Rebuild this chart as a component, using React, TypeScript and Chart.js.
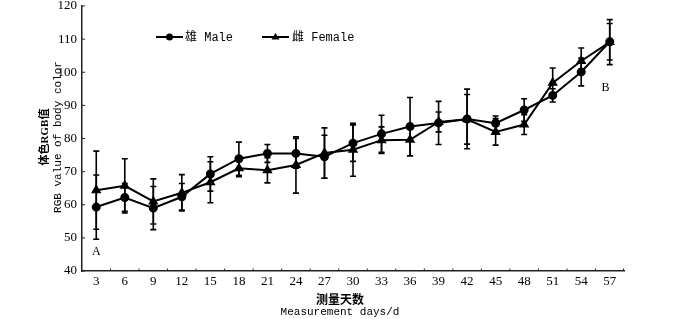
import React, { useEffect, useRef } from "react";
import { Chart, registerables } from "chart.js";

Chart.register(...registerables);

const days = ["3", "6", "9", "12", "15", "18", "21", "24", "27", "30", "33", "36", "39", "42", "45", "48", "51", "54", "57"];
const seriesNames = ["雄 Male", "雌 Female"];
const maleMean = [59.3, 62.2, 59.0, 62.4, 69.3, 73.9, 75.5, 75.5, 74.5, 78.6, 81.4, 83.6, 84.7, 85.9, 84.6, 88.6, 93.0, 100.1, 109.2];
const maleSd = [9.7, 4.2, 6.5, 4.0, 5.2, 5.0, 2.7, 4.5, 6.5, 5.5, 5.6, 8.8, 6.5, 9.0, 2.2, 3.4, 2.0, 4.2, 5.5];
const femaleMean = [64.4, 65.7, 61.0, 63.6, 66.8, 71.0, 70.4, 72.0, 75.6, 76.6, 79.5, 79.6, 85.0, 85.8, 82.0, 84.2, 96.8, 103.4, 109.1];
const femaleSd = [11.8, 8.2, 6.8, 5.5, 6.2, 2.5, 3.8, 8.5, 7.6, 8.0, 4.0, 4.8, 3.0, 7.5, 4.0, 3.0, 4.5, 3.9, 6.8];
const yTicks = [40, 50, 60, 70, 80, 90, 100, 110, 120];
const yTitleLines = ["体色RGB值", "RGB value of body color"];
const xTitleLines = ["测量天数", "Measurement days/d"];
const noteLabels = ["A", "B"];
const noteIndex = [0, 17.85];
const noteValue = [45.8, 95.2];

const sdList = [maleSd, femaleSd];

const errorBars = {
  id: "errorBars",
  beforeDatasetsDraw(chart: any) {
    const { ctx, scales } = chart;
    const xs = scales.x;
    const ys = scales.y;
    ctx.save();
    ctx.strokeStyle = "#000";
    ctx.lineWidth = 1.6;
    chart.data.datasets.forEach((ds: any, di: number) => {
      const sd = sdList[di];
      ds.data.forEach((v: number, i: number) => {
        const x = xs.getPixelForValue(i);
        const yt = ys.getPixelForValue(v + sd[i]);
        const yb = ys.getPixelForValue(v - sd[i]);
        ctx.beginPath();
        ctx.moveTo(x, yt);
        ctx.lineTo(x, yb);
        ctx.moveTo(x - 3, yt);
        ctx.lineTo(x + 3, yt);
        ctx.moveTo(x - 3, yb);
        ctx.lineTo(x + 3, yb);
        ctx.stroke();
      });
    });
    ctx.restore();
  },
};

const decorations = {
  id: "decorations",
  afterDraw(chart: any) {
    const { ctx, scales, chartArea } = chart;
    const xs = scales.x;
    const ys = scales.y;
    ctx.save();
    ctx.strokeStyle = "#222";
    ctx.lineWidth = 1;
    // inward tick marks on x axis at category boundaries
    for (let i = 0; i < days.length; i++) {
      const x = i < days.length - 1
        ? (xs.getPixelForValue(i) + xs.getPixelForValue(i + 1)) / 2
        : chartArea.right - 0.5;
      ctx.beginPath();
      ctx.moveTo(x, chartArea.bottom);
      ctx.lineTo(x, chartArea.bottom - 2.5);
      ctx.stroke();
    }
    // inward tick marks on y axis
    yTicks.forEach((t) => {
      const y = ys.getPixelForValue(t);
      ctx.beginPath();
      ctx.moveTo(chartArea.left, y);
      ctx.lineTo(chartArea.left + 3, y);
      ctx.stroke();
    });

    ctx.fillStyle = "#000";
    // annotations
    ctx.font = "12px 'Liberation Serif'";
    ctx.textAlign = "center";
    ctx.textBaseline = "middle";
    noteLabels.forEach((t, i) => {
      ctx.fillText(t, xs.getPixelForValue(noteIndex[i]), ys.getPixelForValue(noteValue[i]));
    });

    // x title
    ctx.font = "bold 12px 'Noto Sans CJK SC'";
    ctx.fillText(xTitleLines[0], 340, 299);
    ctx.font = "11px 'Liberation Mono'";
    ctx.fillText(xTitleLines[1], 340, 312);

    // y title
    ctx.save();
    ctx.translate(45, 137);
    ctx.rotate(-Math.PI / 2);
    ctx.font = "bold 11px 'Liberation Serif', 'Noto Sans CJK SC'";
    ctx.fillText(yTitleLines[0], 0, 0);
    ctx.restore();
    ctx.save();
    ctx.translate(58, 137);
    ctx.rotate(-Math.PI / 2);
    ctx.font = "11px 'Liberation Mono'";
    ctx.fillText(yTitleLines[1], 0, 0);
    ctx.restore();

    // legend
    const legendY = 37;
    const items = [
      { x0: 156, x1: 183, tx: 185, style: "circle" },
      { x0: 262, x1: 289, tx: 292, style: "triangle" },
    ];
    items.forEach((it, i) => {
      ctx.strokeStyle = "#000";
      ctx.lineWidth = 2;
      ctx.beginPath();
      ctx.moveTo(it.x0, legendY);
      ctx.lineTo(it.x1, legendY);
      ctx.stroke();
      const cx = (it.x0 + it.x1) / 2;
      ctx.beginPath();
      if (it.style === "circle") {
        ctx.arc(cx, legendY, 3.5, 0, Math.PI * 2);
      } else {
        ctx.moveTo(cx, legendY - 4);
        ctx.lineTo(cx + 4, legendY + 2.5);
        ctx.lineTo(cx - 4, legendY + 2.5);
        ctx.closePath();
      }
      ctx.fill();
      ctx.font = "12px 'Liberation Mono', 'Noto Sans CJK SC'";
      ctx.textAlign = "left";
      ctx.fillText(seriesNames[i], it.tx, legendY + 0.5);
    });
    ctx.restore();
  },
};

export default function App() {
  const ref = useRef<HTMLCanvasElement | null>(null);
  useEffect(() => {
    document.body.style.margin = "0";
    const canvas = ref.current;
    if (!canvas) return;
    const chart = new Chart(canvas, {
      type: "line",
      data: {
        labels: days,
        datasets: [
          {
            label: seriesNames[0],
            data: maleMean,
            borderColor: "#000",
            backgroundColor: "#000",
            borderWidth: 2,
            pointStyle: "circle",
            pointRadius: 3.5,
            pointBackgroundColor: "#000",
            pointBorderColor: "#000",
            tension: 0,
          },
          {
            label: seriesNames[1],
            data: femaleMean,
            borderColor: "#000",
            backgroundColor: "#000",
            borderWidth: 2,
            pointStyle: "triangle",
            pointRadius: 4,
            pointBackgroundColor: "#000",
            pointBorderColor: "#000",
            tension: 0,
          },
        ],
      },
      options: {
        animation: false,
        responsive: false,
        devicePixelRatio: 1,
        layout: { padding: { top: 6, right: 76, bottom: 0, left: 0 } },
        plugins: { legend: { display: false }, tooltip: { enabled: false } },
        scales: {
          x: {
            type: "category",
            offset: true,
            grid: { display: false, drawTicks: false },
            border: { display: true, color: "#222", width: 1.5 },
            ticks: {
              color: "#000",
              font: { family: "'Liberation Serif'", size: 13 },
              padding: 3,
              maxRotation: 0,
              autoSkip: false,
            },
            afterFit(s: any) {
              s.height = 48;
              s.paddingLeft = 0;
              s.paddingRight = 0;
            },
          },
          y: {
            min: 40,
            max: 120,
            grid: { display: false, drawTicks: false },
            border: { display: true, color: "#222", width: 1.5 },
            ticks: {
              stepSize: 10,
              color: "#000",
              font: { family: "'Liberation Serif'", size: 13 },
              padding: 5,
            },
            afterFit(s: any) {
              s.width = 82;
              s.paddingTop = 0;
              s.paddingBottom = 0;
            },
          },
        },
      },
      plugins: [errorBars, decorations],
    });
    return () => chart.destroy();
  }, []);
  return (
    <div style={{ width: 700, height: 319, background: "#fff" }}>
      <canvas ref={ref} width={700} height={319} style={{ display: "block" }} />
    </div>
  );
}
